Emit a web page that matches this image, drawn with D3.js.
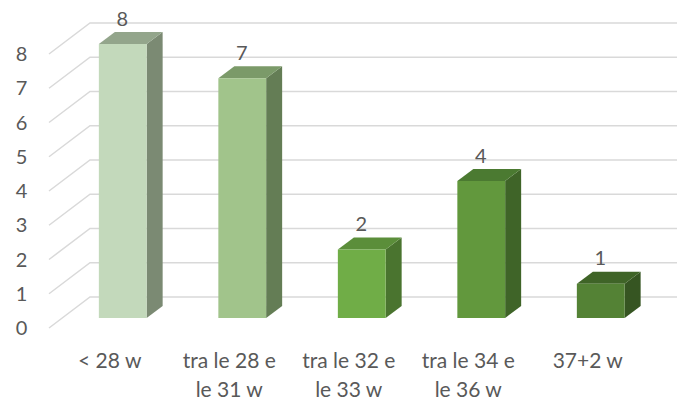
<!DOCTYPE html>
<html>
<head>
<meta charset="utf-8">
<script src="https://cdn.jsdelivr.net/npm/d3@7"></script>
<style>
  html, body { margin: 0; padding: 0; background: #fff; }
  svg { display: block; }
  text { font-family: Lato, "Open Sans", sans-serif; fill: #595959; }
</style>
</head>
<body>
<svg id="chart" width="677" height="400"></svg>
<script>
// Category labels (each entry is the list of lines) and counts
const categories = ["< 28 w", "tra le 28 e le 31 w", "tra le 32 e le 33 w", "tra le 34 e le 36 w", "37+2 w"];
const categoryLines = [["< 28 w"], ["tra le 28 e", "le 31 w"], ["tra le 32 e", "le 33 w"], ["tra le 34 e", "le 36 w"], ["37+2 w"]];
const values = [8, 7, 2, 4, 1];
const yTicks = [0, 1, 2, 3, 4, 5, 6, 7, 8];

// Face colours per bar: front, side, top
const frontColors = ["#c3d9bb", "#a1c48b", "#70ad47", "#62983d", "#548235"];
const sideColors  = ["#7b8a73", "#647d55", "#4a742f", "#3f6428", "#365522"];
const topColors   = ["#93a58b", "#7b9a69", "#5b8e3a", "#4b7a31", "#3f6427"];

const svg = d3.select("#chart");

// 3D frame: floor front edge and the back wall offset
const floorFront = 328;       // y of value 0 on the front plane
const wallDx = 41, wallDy = -31;
const wallRight = 677;

// Bars sit inside the depth of the floor
const barFrontDx = 13, barFrontDy = -10;
const barDepthDx = 16, barDepthDy = -12;

const x = d3.scaleBand().domain(categories).range([50, 647.5]).padding(0);
const y = d3.scaleLinear().domain([0, 8]).range([0, 274]);
const barW = x.step() * 0.4;

// Gridlines: diagonal on the side wall plus horizontal on the back wall
const grid = svg.append("g").attr("stroke", "#d9d9d9").attr("stroke-width", 1.5).attr("fill", "none");
yTicks.forEach(t => {
  const yf = floorFront - y(t);
  grid.append("path")
    .attr("d", `M49,${yf}L${49 + wallDx},${yf + wallDy}L${wallRight},${yf + wallDy}`);
});

// Value axis labels
svg.append("g").selectAll("text").data(yTicks).join("text")
  .attr("x", 21.5)
  .attr("y", d => floorFront - y(d))
  .attr("dy", "0.36em")
  .attr("text-anchor", "middle")
  .attr("font-size", 20)
  .text(d => d);

// Bars drawn as three faces
const bars = svg.append("g").selectAll("g").data(values).join("g");
bars.each(function (v, i) {
  const g = d3.select(this);
  const cx = x(categories[i]) + x.bandwidth() / 2 + barFrontDx;
  const x0 = cx - barW / 2, x1 = cx + barW / 2;
  const yb = floorFront + barFrontDy;
  const yt = yb - y(v);
  // side face
  g.append("path")
    .attr("d", `M${x1},${yb}L${x1 + barDepthDx},${yb + barDepthDy}L${x1 + barDepthDx},${yt + barDepthDy}L${x1},${yt}Z`)
    .attr("fill", sideColors[i]);
  // top face
  g.append("path")
    .attr("d", `M${x0},${yt}L${x0 + barDepthDx},${yt + barDepthDy}L${x1 + barDepthDx},${yt + barDepthDy}L${x1},${yt}Z`)
    .attr("fill", topColors[i]);
  // front face
  g.append("rect")
    .attr("x", x0).attr("y", yt)
    .attr("width", barW).attr("height", y(v))
    .attr("fill", frontColors[i]);
  // value label
  g.append("text")
    .attr("x", cx - 0.5)
    .attr("y", yt - 18.5)
    .attr("text-anchor", "middle")
    .attr("font-size", 20)
    .text(v);
});

// Category labels
const cat = svg.append("g").selectAll("text").data(categories).join("text")
  .attr("text-anchor", "middle")
  .attr("font-size", 21)
  .attr("y", 368);
cat.each(function (d, i) {
  const t = d3.select(this);
  const cx = x(d) + x.bandwidth() / 2;
  categoryLines[i].forEach((line, k) => {
    t.append("tspan").attr("x", cx).attr("dy", k === 0 ? 0 : 29).text(line);
  });
});
</script>
</body>
</html>
